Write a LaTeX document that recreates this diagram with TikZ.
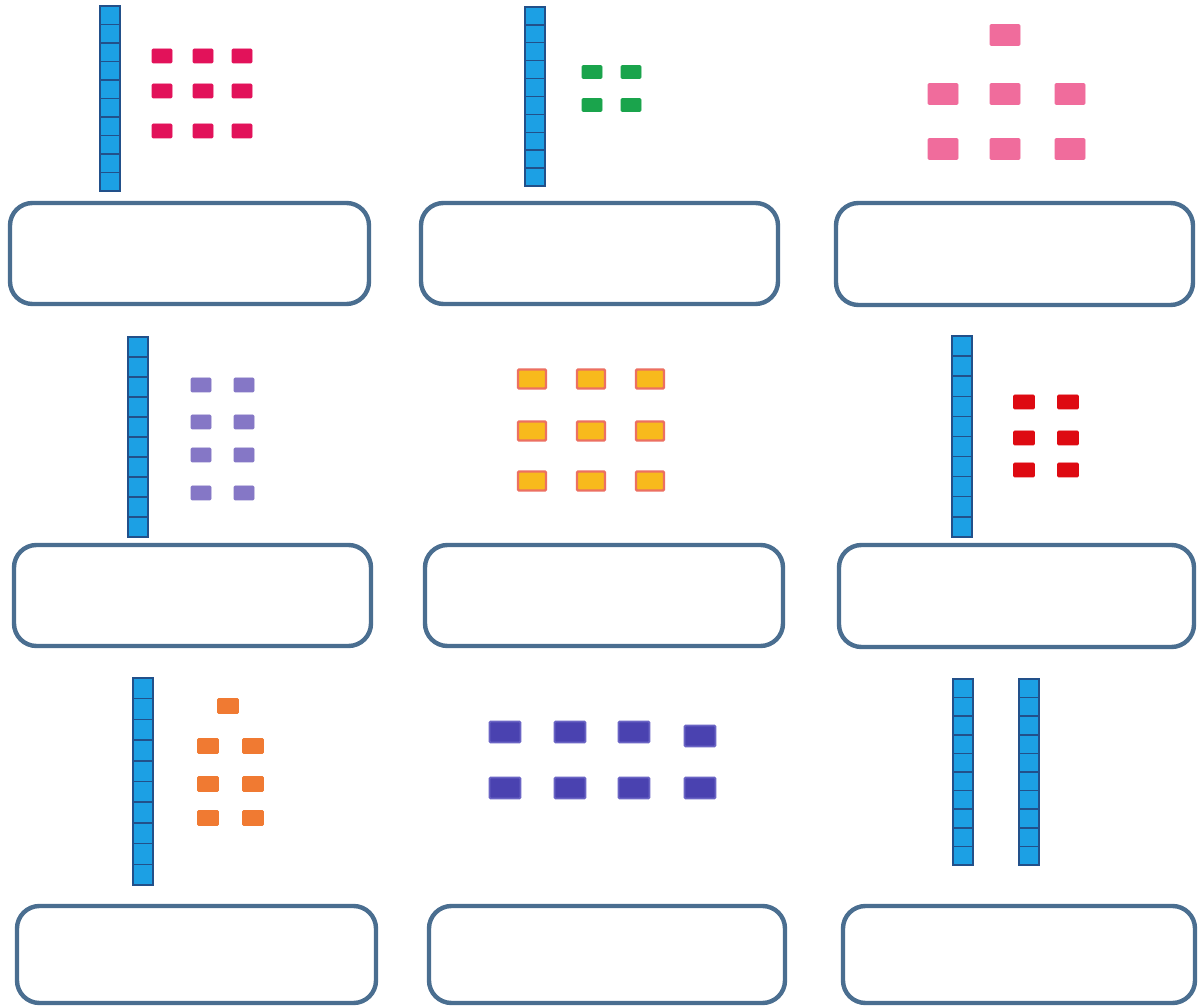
\documentclass[tikz,border=0pt]{standalone}
\usepackage{xcolor}
\usepackage{tikz}
\usetikzlibrary{positioning}
\definecolor{rodfill}{HTML}{1CA0E4}
\definecolor{rodedge}{HTML}{22508A}
\definecolor{frame}{HTML}{4A6E90}
\definecolor{crimson}{HTML}{E2125A}
\definecolor{leaf}{HTML}{1AA44C}
\definecolor{rose}{HTML}{F06C9C}
\definecolor{lilac}{HTML}{8577C6}
\definecolor{amber}{HTML}{F8BA1C}
\definecolor{coral}{HTML}{EC7062}
\definecolor{scarlet}{HTML}{DE0A12}
\definecolor{tangerine}{HTML}{F07A32}
\definecolor{indigo}{HTML}{4A42B0}
\definecolor{indigoedge}{HTML}{6A64C4}
% a ten-rod: left x, top y, bottom y (pixel units, y downwards)
\newcommand{\tenrod}[3]{%
  \foreach \i in {0,...,9}
    \draw[rodcell] (#1,{#2+\i*(#3-#2)/10}) rectangle ({#1+20},{#2+(\i+1)*(#3-#2)/10});}
% unit tiles: style, width, height, list of centres
\newcommand{\tiles}[4]{%
  \foreach \x/\y in {#4}
    \draw[#1] ({\x-#2/2},{\y-#3/2}) rectangle ({\x+#2/2},{\y+#3/2});}

\begin{document}
\begin{tikzpicture}[x=0.02cm,y=-0.02cm,
  rodcell/.style={fill=rodfill,draw=rodedge,line width=0.8pt},
  answer/.style={draw=frame,line width=2.5pt,rounded corners=0.45cm},
  tile/.style={fill=#1,draw=#1,line width=0.4pt,rounded corners=0.6pt}]

\fill[white] (0,0) rectangle (1198,1006);
\useasboundingbox (0,0) rectangle (1198,1006);

% ---------- row 1 ----------
\tenrod{100}{6}{191}
\tiles{tile=crimson}{20}{14}{162/56,203/56,242/56,162/91,203/91,242/91,162/131,203/131,242/131}
\draw[answer] (10,203) rectangle (369,304);

\tenrod{525}{7}{186}
\tiles{tile=leaf}{20}{13}{592/72,631/72,592/105,631/105}
\draw[answer] (421,203) rectangle (778,304);

\tiles{tile=rose}{30}{21}{1005/35,943/94,1005/94,1070/94,943/149,1005/149,1070/149}
\draw[answer] (836,203) rectangle (1193,305);

% ---------- row 2 ----------
\tenrod{128}{337}{537}
\tiles{tile=lilac}{20}{14}{201/385,244/385,201/422,244/422,201/455,244/455,201/493,244/493}
\draw[answer] (14,545) rectangle (371,646);

\tiles{fill=amber,draw=coral,line width=1.4pt,rounded corners=0.6pt}{28}{19}{532/379,591/379,650/379,532/431,591/431,650/431,532/481,591/481,650/481}
\draw[answer] (425,545) rectangle (783,646);

\tenrod{952}{336}{537}
\tiles{tile=scarlet}{21}{14}{1024/402,1068/402,1024/438,1068/438,1024/470,1068/470}
\draw[answer] (839,545) rectangle (1194,647);

% ---------- row 3 ----------
\tenrod{133}{678}{885}
\tiles{tile=tangerine}{21}{15}{228/706,208/746,253/746,208/784,253/784,208/818,253/818}
\draw[answer] (17,906) rectangle (376,1003);

\tiles{fill=indigo,draw=indigoedge,line width=1pt,rounded corners=0.6pt}{31}{21}{505/732,570/732,634/732,700/736,505/788,570/788,634/788,700/788}
\draw[answer] (429,906) rectangle (785,1003);

\tenrod{953}{679}{865}
\tenrod{1019}{679}{865}
\draw[answer] (843,906) rectangle (1195,1003);
\end{tikzpicture}
\end{document}
